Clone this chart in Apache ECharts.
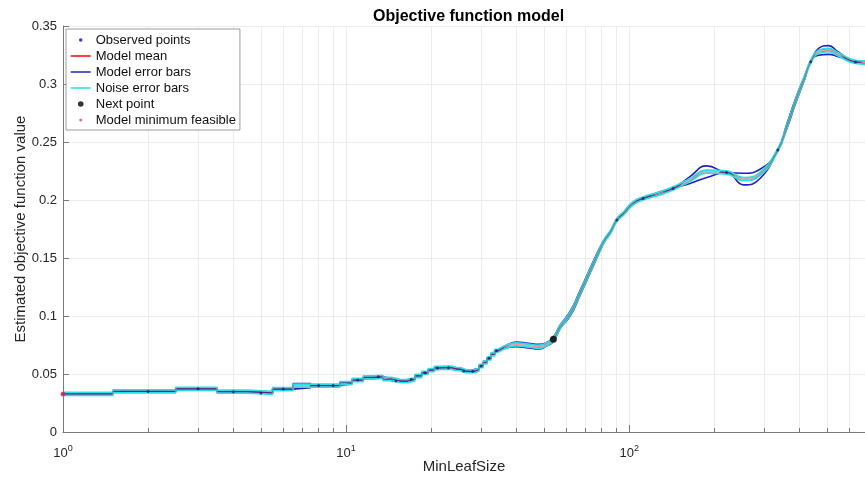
<!DOCTYPE html>
<html>
<head>
<meta charset="utf-8">
<title>Objective function model</title>
<script src="https://cdn.jsdelivr.net/npm/echarts@6/dist/echarts.min.js"></script>
<style>
  html, body { margin: 0; padding: 0; background: #ffffff; }
  #chart { width: 865px; height: 479px; }
</style>
</head>
<body>
<div id="chart"></div>
<script>
// MinLeafSize is an integer, so small sizes are drawn as flat steps per integer.
const stepLeafSizes = [1, 2, 3, 4, 5, 6, 7, 8, 9, 10, 11, 12, 13, 14, 15, 16, 17,
  18, 19, 20, 21, 22, 23, 24, 25, 26, 27, 28, 29, 30, 31, 32, 33, 34];
const stepMean = [0.0328, 0.0350, 0.0372, 0.0348, 0.0337, 0.0370, 0.0400, 0.0400,
  0.0400, 0.0422, 0.0448, 0.0470, 0.0476, 0.0457, 0.0440, 0.0438, 0.0454, 0.0483,
  0.0510, 0.0534, 0.0552, 0.0555, 0.0554, 0.0545, 0.0540, 0.0525, 0.0522, 0.0524,
  0.0540, 0.0569, 0.0600, 0.0635, 0.0670, 0.0700];
const stepModelHalfWidth = [0, 0, 0, 0, 0, 0, 0.0018, 0, 0, 0.0006, 0, 0.0004, 0,
  0.0004, 0, 0.0004, 0, 0.0004, 0, 0.0003, 0, 0.0003, 0, 0.0004, 0.0004, 0, 0.0003,
  0, 0.0003, 0, 0.0003, 0, 0.0003, 0];

// Larger sizes: the model is drawn as a smooth curve through these sizes.
const curveLeafSizes = [34.5, 37, 40, 44, 48, 51, 54, 57, 62, 67, 73, 79, 82, 86,
  90.5, 96, 103, 112, 128, 143, 164, 188, 221, 254, 290, 335, 360, 388, 416, 438,
  467, 506, 548, 630, 690];
const curveMean = [0.0700, 0.0738, 0.0756, 0.0745, 0.0735, 0.0755, 0.0800, 0.0905,
  0.1023, 0.1196, 0.1397, 0.1580, 0.1655, 0.1727, 0.1828, 0.1890, 0.1970, 0.2014,
  0.2057, 0.2100, 0.2172, 0.2244, 0.2237, 0.2180, 0.2225, 0.2430, 0.2630, 0.2860,
  0.3050, 0.3192, 0.3278, 0.3293, 0.3256, 0.3190, 0.3183];
const curveModelHalfWidth = [0.0003, 0.0012, 0.0020, 0.0020, 0.0020, 0.0015, 0.0020,
  0.0015, 0.0020, 0.0020, 0.0020, 0.0015, 0.0010, 0.0008, 0, 0.0008, 0.0010, 0,
  0.0012, 0, 0.0030, 0.0050, 0, 0.0050, 0.0040, 0, 0.0020, 0.0020, 0.0015, 0,
  0.0030, 0.0038, 0.0020, 0, 0.0015];
const noiseHalfWidth = 0.0013;

const observedLeafSizes = [1, 2, 3, 4, 5, 6, 8, 9, 11, 13, 15, 17, 19, 21, 23, 26,
  28, 30, 32, 34, 90.5, 112, 143, 221, 335, 438, 630];
const observedValues = [0.0328, 0.0350, 0.0372, 0.0348, 0.0337, 0.0370, 0.0400,
  0.0400, 0.0448, 0.0476, 0.0440, 0.0454, 0.0510, 0.0552, 0.0554, 0.0525, 0.0524,
  0.0569, 0.0635, 0.0700, 0.1828, 0.2014, 0.2100, 0.2237, 0.2430, 0.3192, 0.3190];
const nextPoint = [54, 0.0800];
const minimumFeasible = [1, 0.0328];

// Axis range (MinLeafSize) and tick decades
const leafSizeMin = 1;
const leafSizeMax = 681;
const decades = [0, 1, 2];
const decadeMultipliers = [1, 2, 3, 4, 5, 6, 7, 8, 9];

const lg = Math.log10;

function stepLine(offsetSign, halfWidths, extra) {
  const pts = [];
  stepLeafSizes.forEach((k, i) => {
    const v = stepMean[i] + offsetSign * (halfWidths ? halfWidths[i] : 0) + (extra || 0) * offsetSign;
    pts.push([lg(Math.max(k - 0.5, leafSizeMin)), v]);
    pts.push([lg(k + 0.5), v]);
  });
  return pts;
}
function curveLine(offsetSign, halfWidths, extra) {
  return curveLeafSizes.map((x, i) => [
    lg(x),
    curveMean[i] + offsetSign * (halfWidths ? halfWidths[i] : 0) + (extra || 0) * offsetSign
  ]);
}

const minorTickValues = [];
decades.forEach(d => decadeMultipliers.forEach(m => {
  const v = m * Math.pow(10, d);
  if (v >= leafSizeMin && v <= leafSizeMax) minorTickValues.push(lg(v));
}));

const MODEL_BLUE = '#2222c0';
const NOISE_CYAN = '#27dfe6';
const MEAN_RED = '#ff0000';

function lineSeries(name, data, color, width, smooth, z, opacity) {
  return {
    name, type: 'line', data, smooth, symbol: 'none', z,
    silent: true, animation: false, clip: true,
    lineStyle: { color, width, opacity: opacity == null ? 1 : opacity },
    itemStyle: { color }
  };
}

const series = [
  lineSeries('Model error bars', stepLine(1, stepModelHalfWidth), MODEL_BLUE, 1.6, false, 2),
  lineSeries('Model error bars', stepLine(-1, stepModelHalfWidth), MODEL_BLUE, 1.6, false, 2),
  lineSeries('Model error bars', curveLine(1, curveModelHalfWidth), MODEL_BLUE, 1.6, true, 2),
  lineSeries('Model error bars', curveLine(-1, curveModelHalfWidth), MODEL_BLUE, 1.6, true, 2),
  lineSeries('Noise error bars', stepLine(1, null, noiseHalfWidth), NOISE_CYAN, 1.8, false, 3),
  lineSeries('Noise error bars', stepLine(-1, null, noiseHalfWidth), NOISE_CYAN, 1.8, false, 3),
  lineSeries('Noise error bars', curveLine(1, null, noiseHalfWidth), NOISE_CYAN, 1.8, true, 3),
  lineSeries('Noise error bars', curveLine(-1, null, noiseHalfWidth), NOISE_CYAN, 1.8, true, 3),
  lineSeries('Model mean', stepLine(0), MEAN_RED, 1.3, false, 4, 0.4),
  lineSeries('Model mean', curveLine(0), MEAN_RED, 1.3, true, 4, 0.4),
  {
    name: 'Observed points', type: 'scatter', z: 5, silent: true, animation: false,
    symbolSize: 3,
    data: observedLeafSizes.map((x, i) => [lg(x), observedValues[i]]),
    itemStyle: { color: '#1a1a8a' }
  },
  {
    name: 'Next point', type: 'scatter', z: 6, silent: true, animation: false,
    symbolSize: 7,
    data: [[lg(nextPoint[0]), nextPoint[1]]],
    itemStyle: { color: '#000000' }
  },
  {
    name: 'Model minimum feasible', type: 'scatter', z: 6, silent: true, animation: false,
    symbolSize: 5,
    data: [[lg(minimumFeasible[0]), minimumFeasible[1]]],
    itemStyle: { color: '#d8285a' }
  }
];

// Small dot inside a full-size icon box, so legend markers keep their own size.
function dotIcon(r) {
  return 'path://M0,0h0.01v0.01h-0.01z M20,10h-0.01v-0.01h0.01z ' +
    'M' + (10 - r) + ',5a' + r + ',' + r + ' 0 1,0 ' + (2 * r) + ',0a' + r + ',' + r +
    ' 0 1,0 ' + (-2 * r) + ',0z';
}

const FONT = '"Liberation Sans", Arial, Helvetica, sans-serif';
// Legend line entries show only the line, no marker in the middle.
const hiddenMarker = { opacity: 0 };

const option = {
  animation: false,
  backgroundColor: '#ffffff',
  title: {
    text: 'Objective function model',
    left: 368, top: 4,
    textStyle: { fontFamily: FONT, fontSize: 16, fontWeight: 'bold', color: '#000000' }
  },
  legend: {
    orient: 'vertical',
    left: 66, top: 29,
    padding: [4, 4, 3, 4],
    itemWidth: 20, itemHeight: 10, itemGap: 2,
    backgroundColor: '#ffffff',
    borderColor: '#9c9c9c', borderWidth: 1,
    selectedMode: false,
    textStyle: { fontFamily: FONT, fontSize: 13, color: '#111111', lineHeight: 14 },
    data: [
      { name: 'Observed points', icon: dotIcon(1.8), itemStyle: { color: '#1010c8' } },
      { name: 'Model mean', itemStyle: hiddenMarker, lineStyle: { color: MEAN_RED, opacity: 1, width: 1.5 } },
      { name: 'Model error bars', itemStyle: hiddenMarker, lineStyle: { color: MODEL_BLUE, width: 1.5 } },
      { name: 'Noise error bars', itemStyle: hiddenMarker, lineStyle: { color: NOISE_CYAN, width: 1.5 } },
      { name: 'Next point', icon: dotIcon(2.8), itemStyle: { color: '#000000' } },
      { name: 'Model minimum feasible', icon: dotIcon(1.6), itemStyle: { color: '#e0506e' } }
    ]
  },
  grid: {
    left: 63, right: 0, top: 26, bottom: 47,
    containLabel: false, outerBoundsMode: 'none'
  },
  xAxis: [
    {
      type: 'value',
      min: lg(leafSizeMin), max: lg(leafSizeMax),
      name: 'MinLeafSize',
      nameLocation: 'middle', nameGap: 27, nameMoveOverlap: false,
      nameTextStyle: { fontFamily: FONT, fontSize: 15, color: '#262626' },
      axisLine: { show: true, lineStyle: { color: '#7a7a7a', width: 1 } },
      axisTick: {
        show: true, inside: true, length: 4, customValues: minorTickValues,
        lineStyle: { color: '#7a7a7a' }
      },
      axisLabel: {
        show: true, customValues: decades, margin: 12,
        formatter: v => '{b|10}{s|' + Math.round(v) + '}',
        rich: {
          b: { fontFamily: FONT, fontSize: 13, color: '#262626' },
          s: { fontFamily: FONT, fontSize: 9, color: '#262626', padding: [0, 0, 9, 0] }
        }
      },
      splitLine: { show: true, lineStyle: { color: '#ececec', width: 1 } }
    },
    {
      type: 'value', position: 'bottom', offset: 0,
      min: lg(leafSizeMin), max: lg(leafSizeMax),
      axisLine: { show: false },
      axisTick: {
        show: true, inside: true, length: 7, customValues: decades,
        lineStyle: { color: '#7a7a7a' }
      },
      axisLabel: { show: false },
      splitLine: { show: false }
    }
  ],
  yAxis: {
    type: 'value',
    min: 0, max: 0.35, interval: 0.05,
    name: 'Estimated objective function value',
    nameLocation: 'middle', nameGap: 35, nameMoveOverlap: false,
    nameTextStyle: { fontFamily: FONT, fontSize: 15, color: '#262626' },
    axisLine: { show: true, lineStyle: { color: '#7a7a7a', width: 1 } },
    axisTick: { show: true, inside: true, length: 6, lineStyle: { color: '#7a7a7a' } },
    axisLabel: { fontFamily: FONT, fontSize: 13, color: '#262626', margin: 6 },
    splitLine: { show: true, lineStyle: { color: '#ececec', width: 1 } }
  },
  series
};

const chart = echarts.init(document.getElementById('chart'), null, { renderer: 'canvas' });
chart.setOption(option);
</script>
</body>
</html>
